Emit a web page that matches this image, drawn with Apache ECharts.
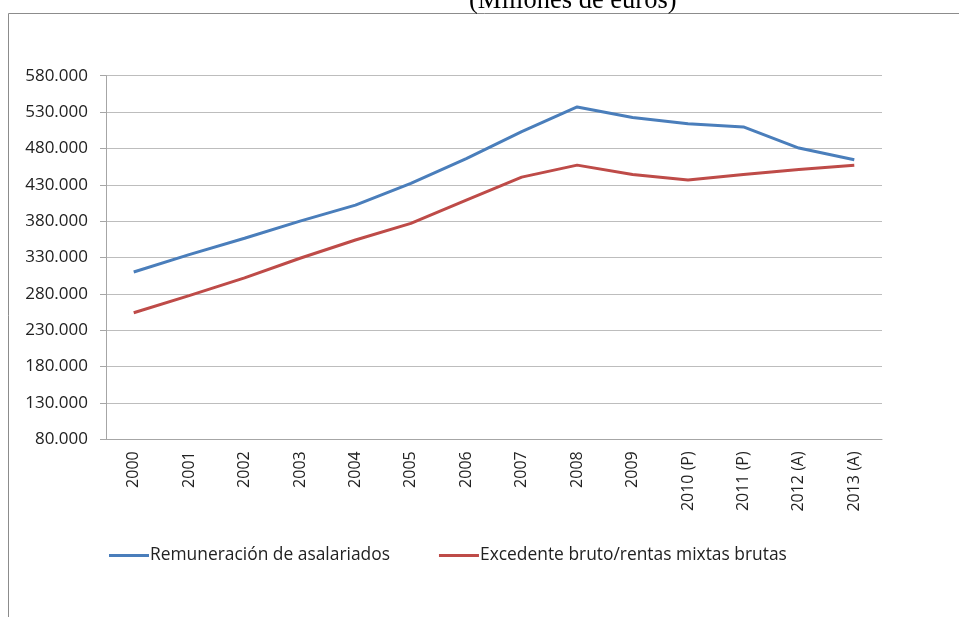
<html>
<head>
    <meta charset="utf-8" />
    <script src="https://cdn.jsdelivr.net/npm/echarts@6/dist/echarts.min.js"></script>
</head>
<body style="margin:0">
    <div id="chart" style="width: 959px;height:617px;"></div>
    <script>
        // datos (millones de euros)
        var years = ['2000', '2001', '2002', '2003', '2004', '2005', '2006', '2007', '2008', '2009', '2010 (P)', '2011 (P)', '2012 (A)', '2013 (A)']
        var remuneracion = [310000, 334000, 356500, 380000, 402000, 432000, 466000, 503000, 537000, 522500, 514000, 509500, 480500, 464500]
        var excedente = [254000, 277500, 302000, 329000, 354000, 377000, 409000, 440500, 457000, 444000, 436500, 444000, 451000, 457000]

        var labelFont = '"Open Sans", "Noto Sans", sans-serif'

        var option = {
            animation: false,
            graphic: [{
                type: 'rect',
                shape: { x: 8.5, y: 13.5, width: 1000, height: 700 },
                style: { fill: null, stroke: '#8c8c8c', lineWidth: 1 },
                silent: true
            }, {
                // titulo cortado arriba como en la imagen original
                type: 'text',
                left: 469,
                top: -12,
                style: {
                    text: '(Millones de euros)',
                    font: '26.5px "Liberation Serif", serif',
                    fill: '#000'
                },
                silent: true
            }],
            legend: {
                left: 104,
                top: 542,
                itemWidth: 40,
                itemHeight: 3,
                itemGap: 49,
                icon: 'rect',
                textStyle: { fontFamily: labelFont, fontSize: 17.4, color: '#222', padding: [0, 0, 0, -4] },
                data: ['Remuneración de asalariados', 'Excedente bruto/rentas mixtas brutas']
            },
            grid: {
                left: 106,
                right: 77,
                top: 75.7,
                bottom: 177.7
            },
            xAxis: {
                type: 'category',
                data: years,
                axisLine: { lineStyle: { color: '#a6a6a6' } },
                axisTick: { show: false },
                axisLabel: {
                    rotate: 90,
                    margin: 12,
                    fontFamily: labelFont,
                    fontSize: 16,
                    color: '#222'
                }
            },
            yAxis: {
                type: 'value',
                min: 80000,
                max: 580000,
                interval: 50000,
                axisLine: { show: true, lineStyle: { color: '#a6a6a6' } },
                axisTick: { show: true, length: 6, lineStyle: { color: '#a6a6a6' } },
                splitLine: { lineStyle: { color: '#bdbdbd', width: 1 } },
                axisLabel: {
                    margin: 18,
                    fontFamily: labelFont,
                    fontSize: 17,
                    color: '#222',
                    formatter: function (v) {
                        return (v / 1000).toFixed(0) + '.000'
                    }
                }
            },
            series: [{
                name: 'Remuneración de asalariados',
                type: 'line',
                data: remuneracion,
                showSymbol: false,
                lineStyle: { width: 3, color: '#4a7ebb' },
                itemStyle: { color: '#4a7ebb' }
            }, {
                name: 'Excedente bruto/rentas mixtas brutas',
                type: 'line',
                data: excedente,
                showSymbol: false,
                lineStyle: { width: 3, color: '#be4b48' },
                itemStyle: { color: '#be4b48' }
            }]
        };

        var chart = echarts.init(document.getElementById('chart'))
        chart.setOption(option);
    </script>
</body>
</html>
